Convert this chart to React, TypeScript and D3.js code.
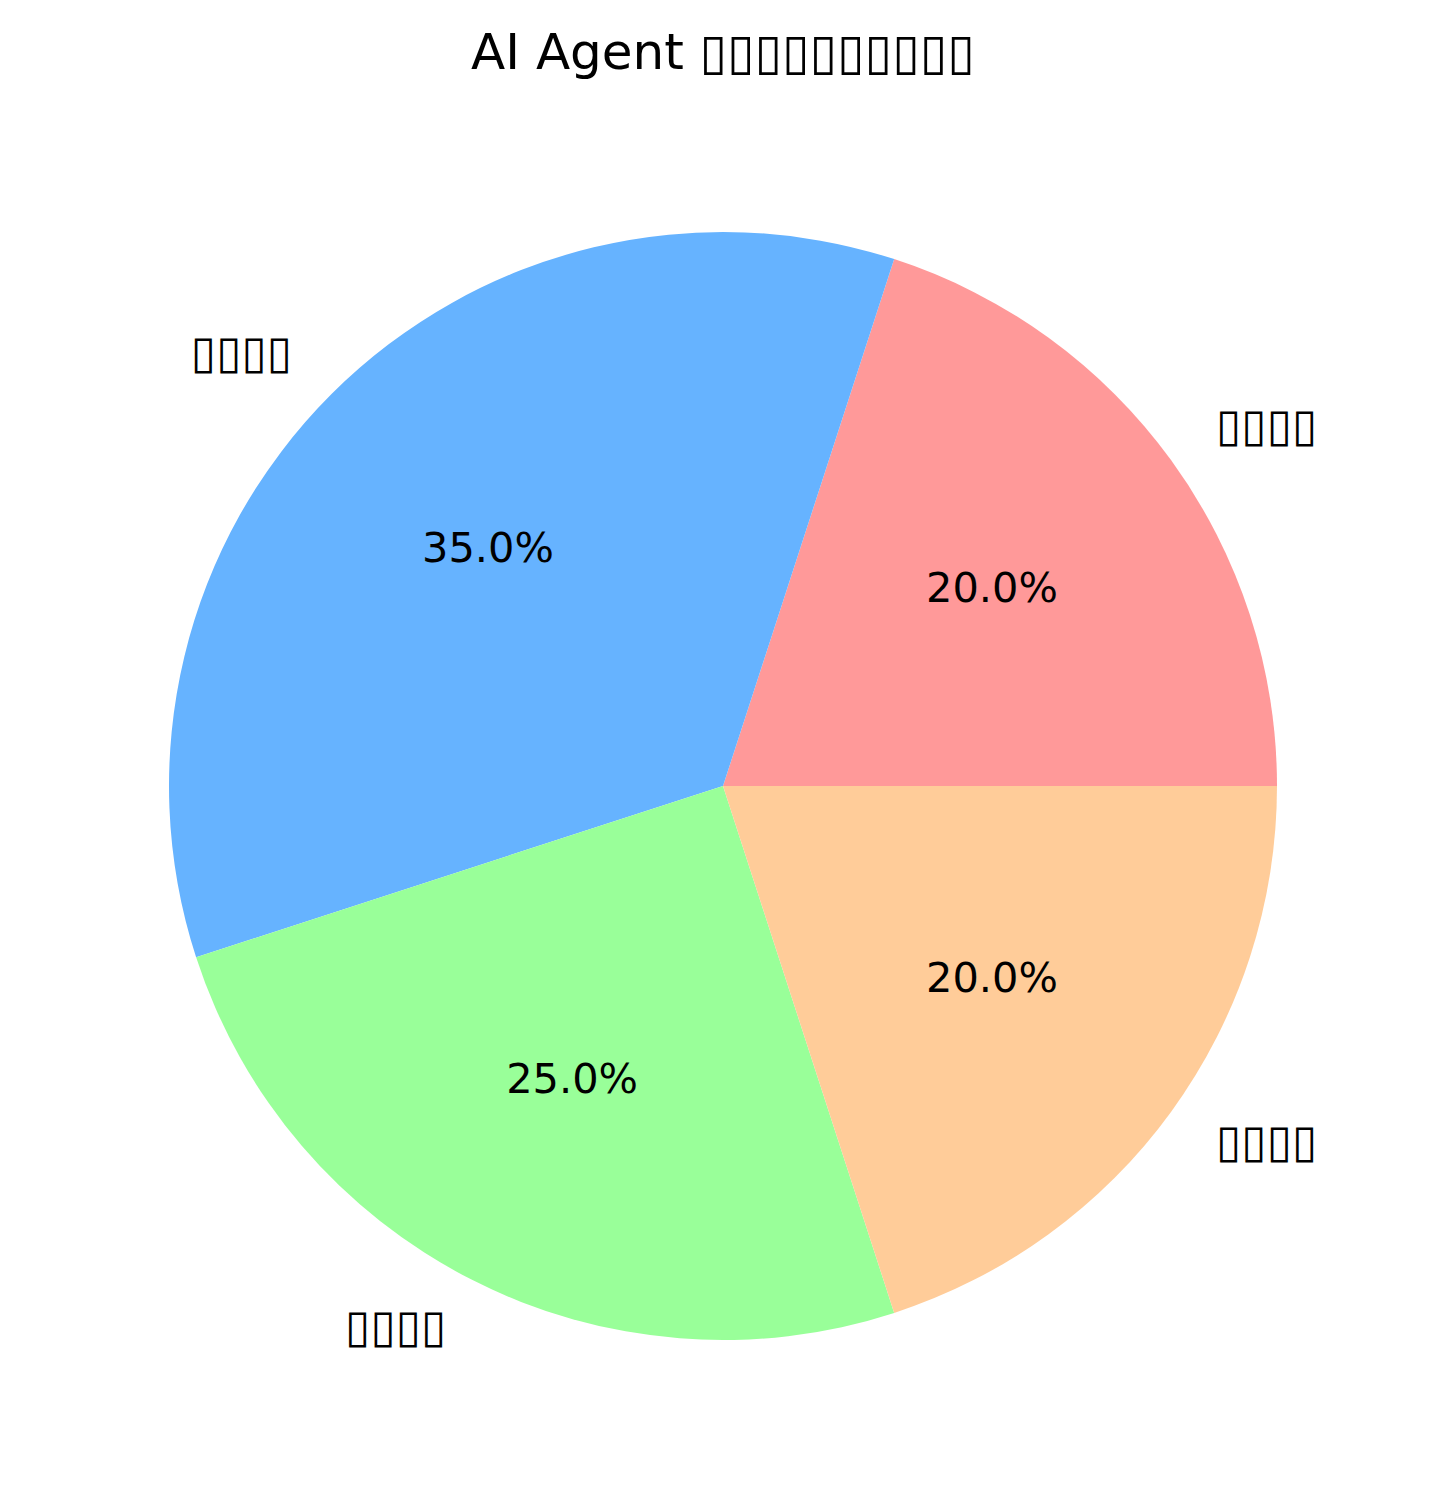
import React from "react";
import * as d3 from "d3";

// The reference renders its CJK labels as missing-glyph boxes; reproduced here as box characters.
const titleText = "AI Agent ▯▯▯▯▯▯▯▯▯▯";
const categories = ["▯▯▯▯", "▯▯▯▯", "▯▯▯▯", "▯▯▯▯"];
const values = [20, 35, 25, 20];
const colors = ["#ff9999", "#66b3ff", "#99ff99", "#ffcc99"];

const W = 1446;
const H = 1509;
const CX = 723;
const CY = 786;
const R = 554;
const FONT = "'DejaVu Sans', sans-serif";

export default function App() {
  const total = d3.sum(values);
  const pie = d3
    .pie<number>()
    .sort(null)
    .startAngle(Math.PI / 2)
    .endAngle(Math.PI / 2 - 2 * Math.PI)
    .value((d) => d);
  const arcs = pie(values);
  const arcGen = d3.arc<d3.PieArcDatum<number>>().innerRadius(0).outerRadius(R);

  return (
    <svg
      width={W}
      height={H}
      style={{ position: "absolute", left: 0, top: 0, background: "#fff" }}
      fontFamily={FONT}
    >
      <text x={CX} y={69} textAnchor="middle" fontSize={50} fill="#000">
        {titleText}
      </text>
      <g transform={`translate(${CX},${CY})`}>
        {arcs.map((a, i) => (
          <path key={i} d={arcGen(a) || ""} fill={colors[i]} />
        ))}
        {arcs.map((a, i) => {
          const mid = (a.startAngle + a.endAngle) / 2;
          const sx = Math.sin(mid);
          const sy = -Math.cos(mid);
          const lx = sx * R * 1.1;
          const ly = sy * R * 1.1;
          const px = sx * R * 0.6;
          const py = sy * R * 0.6;
          const pct = ((values[i] / total) * 100).toFixed(1) + "%";
          return (
            <g key={"t" + i}>
              <text
                x={lx}
                y={ly + 13}
                textAnchor={lx > 0 ? "start" : "end"}
                fontSize={46}
                fill="#000"
              >
                {categories[i]}
              </text>
              <text x={px} y={py + 11} textAnchor="middle" fontSize={41.5} fill="#000">
                {pct}
              </text>
            </g>
          );
        })}
      </g>
    </svg>
  );
}
